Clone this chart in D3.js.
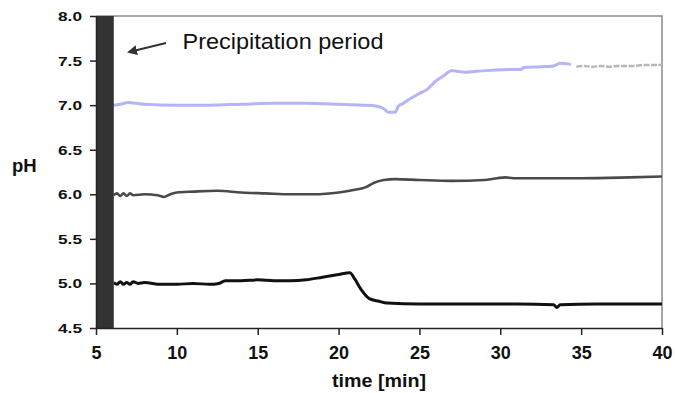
<!DOCTYPE html>
<html><head><meta charset="utf-8">
<script src="https://cdn.jsdelivr.net/npm/d3@7"></script>
<style>body{margin:0;background:#fff;}svg{display:block;}</style>
</head><body>
<svg id="chart" width="675" height="393"></svg>
<script>
const xTicks = [5,10,15,20,25,30,35,40];
const yTicks = [4.5,5.0,5.5,6.0,6.5,7.0,7.5,8.0];
const precipPeriod = [5, 6.1];

const seriesBlue = [[6.1,7.0],[6.5,7.01],[7.0,7.03],[7.5,7.02],[8,7.01],[10,7.0],[12,7.0],[14,7.01],[16,7.02],[18,7.02],[20,7.01],[21.5,7.0],[22.3,6.99],[22.8,6.96],[23.1,6.92],[23.5,6.92],[23.7,6.99],[24.0,7.02],[24.5,7.08],[25.0,7.13],[25.5,7.18],[26.0,7.27],[26.5,7.33],[27.0,7.39],[27.3,7.38],[27.8,7.37],[28.5,7.38],[29.4,7.39],[30.5,7.40],[31.3,7.40],[31.4,7.42],[32.5,7.43],[33.3,7.44],[33.7,7.47],[34.3,7.46]];
const seriesLightGray = [[34.7,7.43],[35.2,7.44],[35.7,7.43],[36.2,7.44],[36.7,7.43],[37.2,7.44],[37.7,7.44],[38.3,7.44],[38.8,7.45],[39.3,7.45],[40,7.45]];
const seriesDarkGray = [[6.1,5.99],[6.3,6.01],[6.5,5.98],[6.7,6.01],[6.9,5.98],[7.1,6.01],[7.3,5.99],[8,6.0],[8.8,5.99],[9.2,5.97],[9.6,6.0],[10,6.02],[11,6.03],[12.5,6.04],[14,6.02],[15.5,6.01],[17,6.0],[18.5,6.0],[20,6.02],[21,6.05],[21.7,6.08],[22.2,6.13],[22.8,6.16],[23.5,6.17],[25,6.16],[27,6.15],[29,6.16],[29.8,6.18],[30.3,6.19],[30.8,6.18],[32,6.18],[35,6.18],[38,6.19],[40,6.2]];
const seriesBlack = [[6.1,5.01],[6.3,4.99],[6.5,5.02],[6.7,4.99],[6.9,5.01],[7.1,4.99],[7.3,5.02],[7.6,5.0],[8,5.01],[9,4.99],[10,4.99],[11,5.0],[12,4.99],[12.6,5.0],[13,5.03],[14,5.03],[15,5.04],[16,5.03],[17,5.03],[18,5.04],[19,5.07],[20,5.1],[20.7,5.12],[21,5.05],[21.4,4.93],[21.9,4.83],[22.5,4.8],[23,4.78],[25,4.77],[28,4.77],[31,4.77],[33.3,4.76],[33.5,4.73],[33.7,4.76],[36,4.77],[38,4.77],[40,4.77]];

const svg = d3.select("#chart");
const L = 96, R = 662, T = 16, B = 328;
const x = d3.scaleLinear().domain([5,40]).range([L,R]);
const y = d3.scaleLinear().domain([4.5,8.0]).range([B,T]);

// frame (top/right gray)
svg.append("path").attr("d",`M${L},${T}H${R}V${B}`).attr("fill","none").attr("stroke","#8a8a8a").attr("stroke-width",1.5);

const line = d3.line().x(d=>x(d[0])).y(d=>y(d[1])).curve(d3.curveMonotoneX);
svg.append("path").datum(seriesBlue).attr("d",line).attr("fill","none").attr("stroke","#b4b4f6").attr("stroke-width",3).attr("stroke-linejoin","round").attr("stroke-linecap","round");
svg.append("path").datum(seriesLightGray).attr("d",line).attr("fill","none").attr("stroke","#b8b8b8").attr("stroke-width",2.5).attr("stroke-dasharray","6,1.5");
svg.append("path").datum(seriesDarkGray).attr("d",line).attr("fill","none").attr("stroke","#4a4a4a").attr("stroke-width",2.6).attr("stroke-linejoin","round");
svg.append("path").datum(seriesBlack).attr("d",line).attr("fill","none").attr("stroke","#111").attr("stroke-width",3).attr("stroke-linejoin","round");

// precipitation bar
svg.append("rect").attr("x",x(precipPeriod[0])).attr("y",T).attr("width",x(precipPeriod[1])-x(precipPeriod[0])).attr("height",B-T).attr("fill","#333");

// axes
const yAxis = svg.append("g").attr("transform",`translate(${L},0)`).call(d3.axisLeft(y).tickValues(yTicks).tickFormat(d3.format(".1f")).tickSize(6).tickSizeOuter(0).tickPadding(8));
yAxis.select(".domain").attr("stroke","#222").attr("stroke-width",1.5);
yAxis.selectAll(".tick line").attr("stroke","#222").attr("stroke-width",1.5);
yAxis.selectAll("text").attr("font-family","Liberation Sans, Arial, sans-serif").attr("font-weight","bold").attr("font-size",13).attr("fill","#111").attr("textLength",24).attr("lengthAdjust","spacingAndGlyphs").attr("dy","0.35em");

const xAxis = svg.append("g").attr("transform",`translate(0,${B})`).call(d3.axisBottom(x).tickValues(xTicks).tickFormat(d3.format("d")).tickSize(7).tickSizeOuter(0).tickPadding(10));
xAxis.select(".domain").attr("stroke","#222").attr("stroke-width",1.5);
xAxis.selectAll(".tick line").attr("stroke","#222").attr("stroke-width",1.5);
xAxis.selectAll("text").attr("font-family","Liberation Sans, Arial, sans-serif").attr("font-weight","bold").attr("font-size",18).attr("fill","#111").attr("dy","0.75em");

// axis titles
svg.append("text").attr("x",379).attr("y",387).attr("text-anchor","middle").attr("font-family","Liberation Sans, Arial, sans-serif").attr("font-weight","bold").attr("font-size",18).attr("fill","#111").attr("textLength",94).attr("lengthAdjust","spacingAndGlyphs").text("time [min]");
svg.append("text").attr("x",12).attr("y",171.5).attr("font-family","Liberation Sans, Arial, sans-serif").attr("font-weight","bold").attr("font-size",18.5).attr("fill","#111").text("pH");

// annotation
svg.append("defs").append("marker").attr("id","ah").attr("viewBox","0 0 10 10").attr("refX",8).attr("refY",5).attr("markerWidth",5).attr("markerHeight",5).attr("orient","auto")
  .append("path").attr("d","M0,0L10,5L0,10z").attr("fill","#333");
svg.append("line").attr("x1",166).attr("y1",43).attr("x2",129).attr("y2",52).attr("stroke","#333").attr("stroke-width",2).attr("marker-end","url(#ah)");
svg.append("text").attr("x",182.5).attr("y",48.5).attr("font-family","Liberation Sans, Arial, sans-serif").attr("font-size",21.5).attr("fill","#111").attr("textLength",201).attr("lengthAdjust","spacingAndGlyphs").text("Precipitation period");
</script>
</body></html>
